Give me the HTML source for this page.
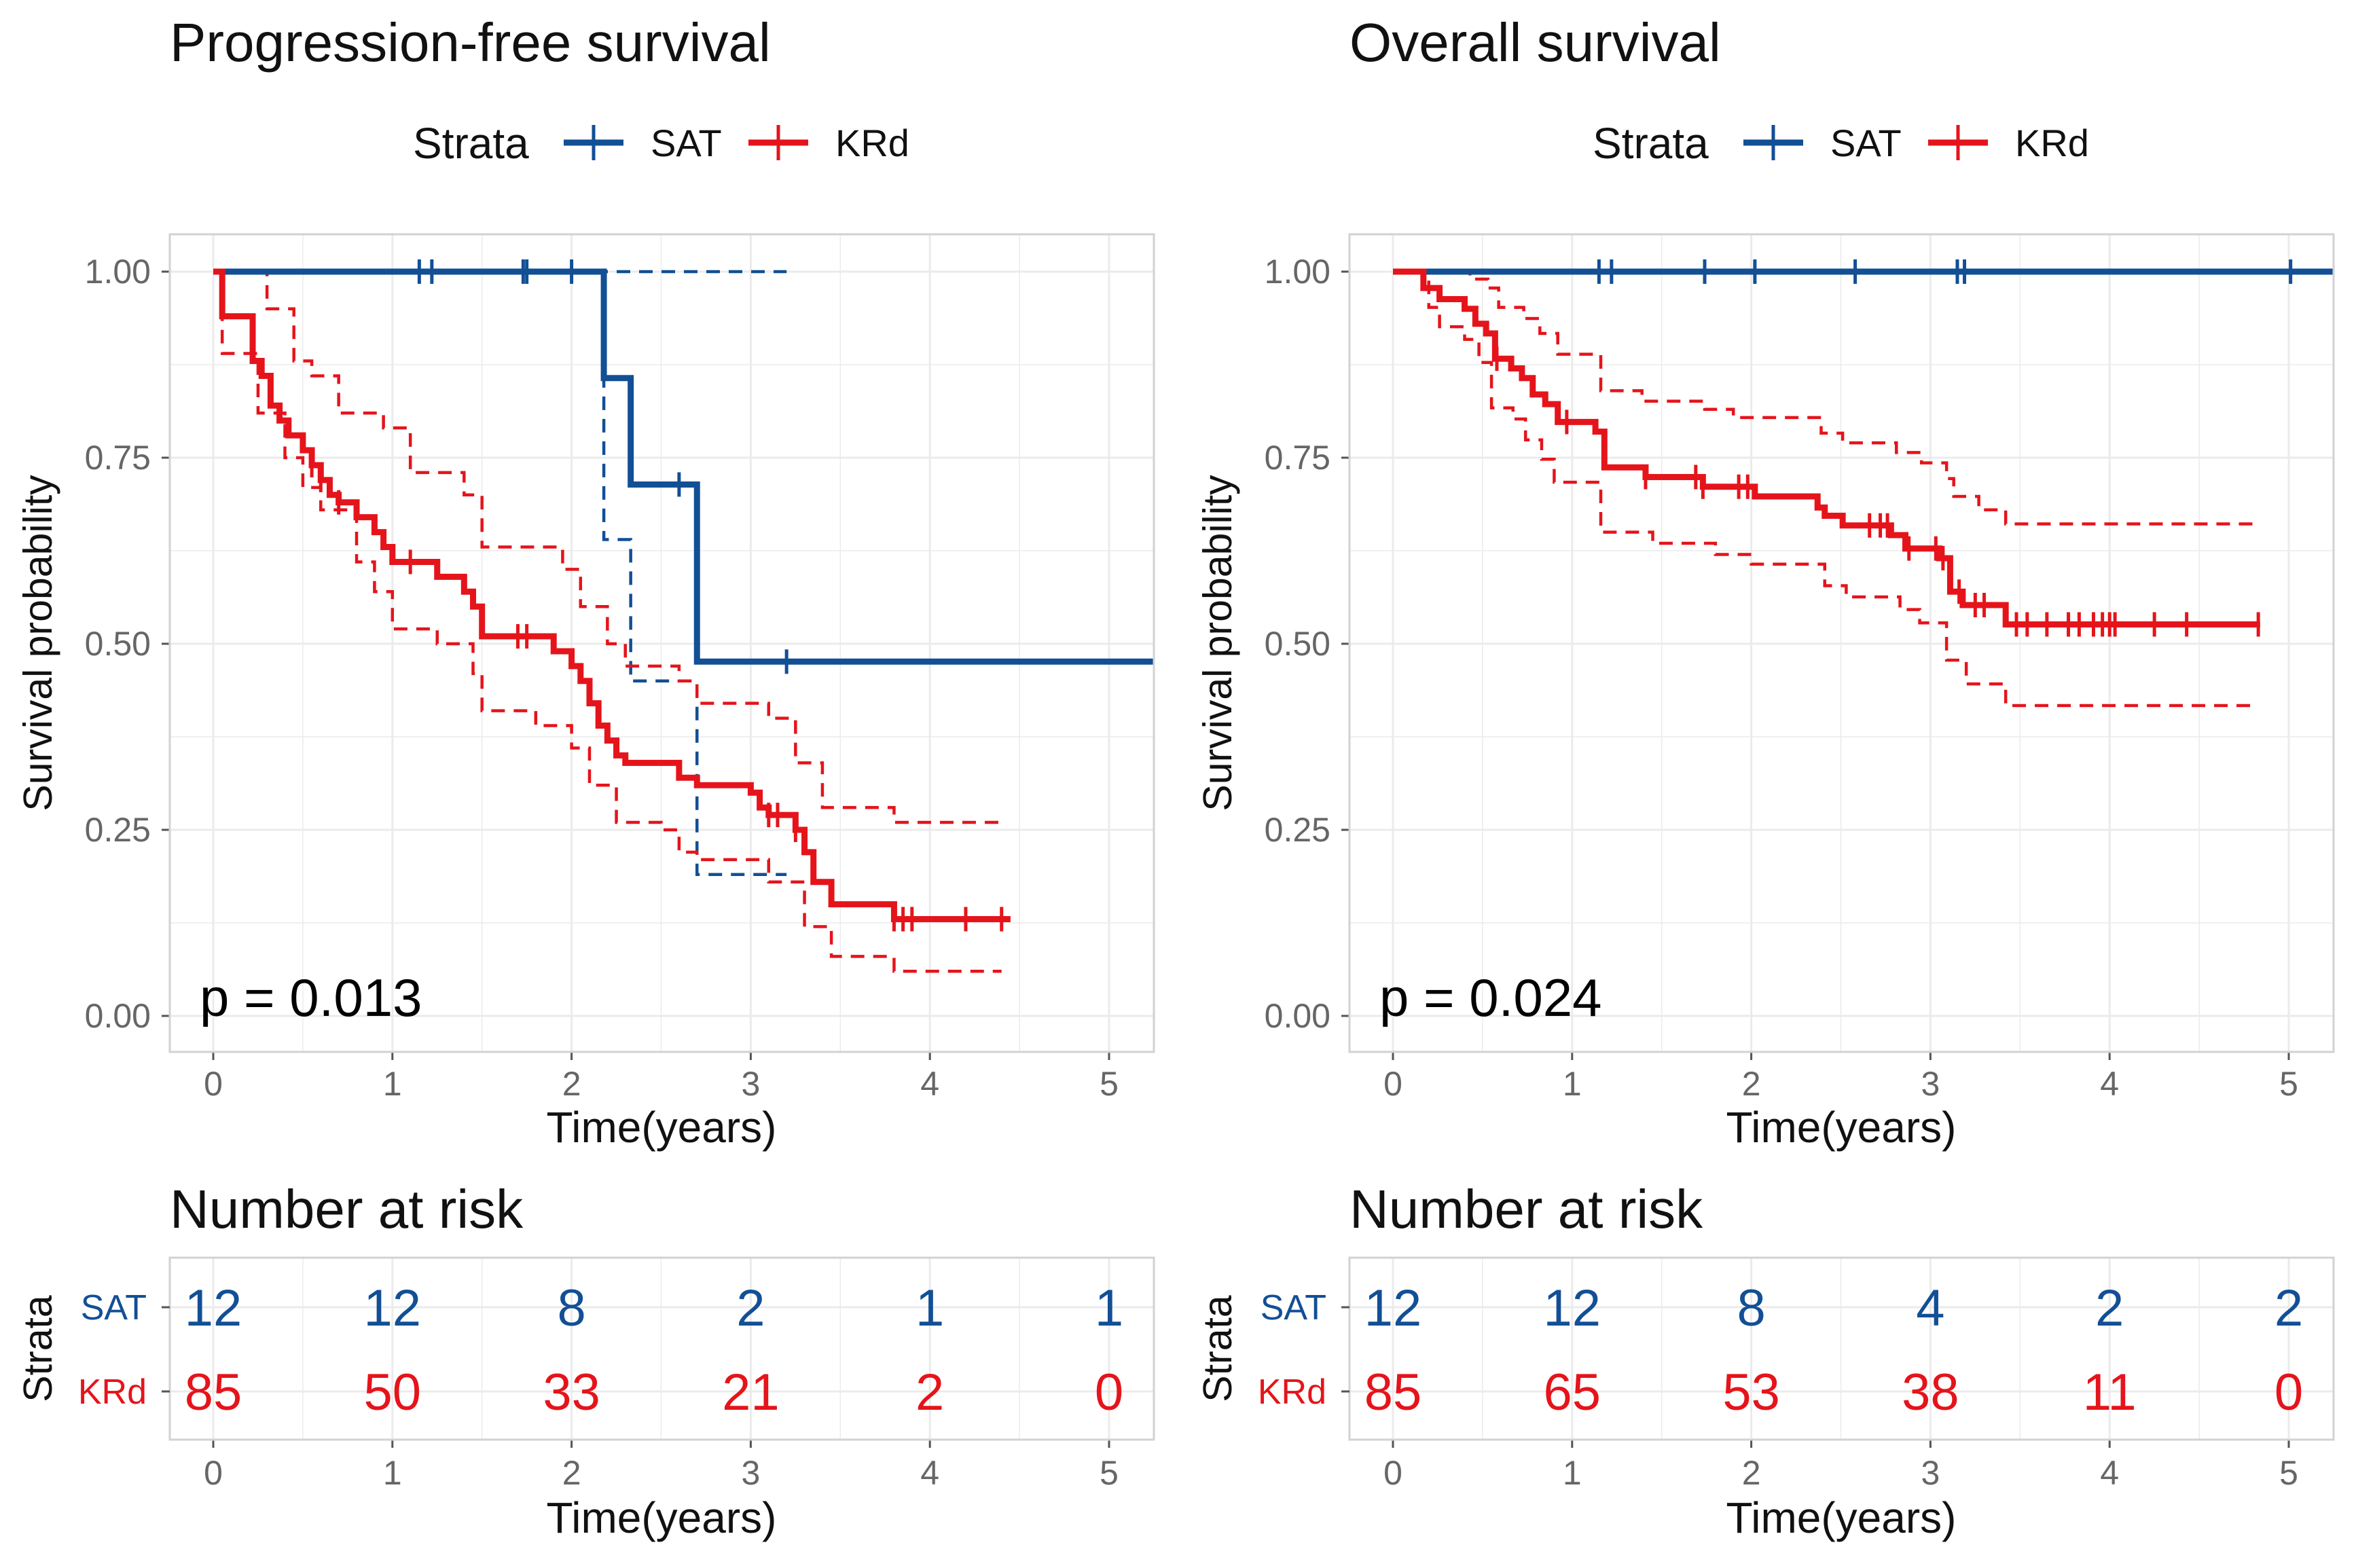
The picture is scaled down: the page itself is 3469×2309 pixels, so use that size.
<!DOCTYPE html>
<html><head><meta charset="utf-8"><style>
html,body{margin:0;padding:0;background:#fff;}
svg{display:block;font-family:"Liberation Sans",Arial,sans-serif;}
</style></head><body>
<svg id="fig" width="3469" height="2309" viewBox="0 0 3469 2309" xmlns="http://www.w3.org/2000/svg"></svg>
<script>
// ---------- data ----------
const xTicks = [0,1,2,3,4,5];
const yTicks = [0,0.25,0.5,0.75,1];
const yTickLabels = ["0.00","0.25","0.50","0.75","1.00"];
const strata = ["SAT","KRd"];

// PFS
const pfsSatT = [0,2.18,2.33,2.7];
const pfsSatS = [1,0.857,0.714,0.476];
const pfsSatEnd = 5.25;
const pfsSatUpT = [0];
const pfsSatUpS = [1];
const pfsSatLoT = [0,2.18,2.33,2.7];
const pfsSatLoS = [1,0.64,0.45,0.19];
const pfsSatCiEnd = 3.2;
const pfsSatCens = [1.15,1.22,1.73,1.75,2.0,2.6,3.2];

const pfsKrdT = [0,0.05,0.22,0.27,0.32,0.37,0.42,0.5,0.55,0.6,0.65,0.7,0.8,0.9,0.95,1.0,1.25,1.4,1.45,1.5,1.9,2.0,2.05,2.1,2.15,2.2,2.25,2.3,2.6,2.7,3.0,3.05,3.1,3.25,3.3,3.35,3.45,3.8];
const pfsKrdS = [1,.94,.88,.86,.82,.80,.78,.76,.74,.72,.70,.69,.67,.65,.63,.61,.59,.57,.55,.51,.49,.47,.45,.42,.39,.37,.35,.34,.32,.31,.30,.28,.27,.25,.22,.18,.15,.13];
const pfsKrdEnd = 4.45;
const pfsKrdUpT = [0,0.3,0.45,0.55,0.7,0.95,1.1,1.4,1.5,1.95,2.05,2.2,2.3,2.6,2.7,3.1,3.25,3.4,3.8];
const pfsKrdUpS = [1,.95,.88,.86,.81,.79,.73,.70,.63,.60,.55,.50,.47,.45,.42,.40,.34,.28,.26];
const pfsKrdLoT = [0,0.05,0.25,0.4,0.5,0.6,0.8,0.9,1.0,1.25,1.45,1.5,1.8,2.0,2.1,2.25,2.5,2.6,2.7,3.1,3.3,3.45,3.8];
const pfsKrdLoS = [1,.89,.81,.75,.71,.68,.61,.57,.52,.50,.46,.41,.39,.36,.31,.26,.25,.22,.21,.18,.12,.08,.06];
const pfsKrdCiEnd = 4.4;
const pfsKrdCens = [0.55,0.6,0.7,1.1,1.7,1.75,3.1,3.15,3.25,3.8,3.85,3.9,4.2,4.4];

// OS
const osSatT = [0];
const osSatS = [1];
const osSatEnd = 5.25;
const osSatCens = [1.15,1.22,1.74,2.02,2.58,3.15,3.19,5.01];

const osKrdT = [0,0.17,0.26,0.4,0.46,0.52,0.57,0.66,0.72,0.78,0.85,0.92,1.13,1.18,1.41,1.73,2.02,2.37,2.41,2.51,2.78,2.86,3.05,3.11,3.18,3.42];
const osKrdS = [1,.978,.963,.95,.93,.917,.883,.87,.857,.835,.822,.798,.785,.737,.724,.711,.698,.683,.672,.659,.646,.628,.615,.57,.552,.526];
const osKrdEnd = 4.84;
const osKrdUpT = [0,0.43,0.53,0.59,0.73,0.82,0.92,1.16,1.39,1.74,1.9,2.39,2.51,2.81,2.95,3.09,3.13,3.27,3.42];
const osKrdUpS = [1,.99,.978,.952,.937,.917,.889,.84,.826,.815,.804,.783,.77,.757,.743,.722,.698,.68,.661];
const osKrdLoT = [0,0.2,0.26,0.4,0.48,0.55,0.67,0.74,0.83,0.9,1.16,1.45,1.8,2.0,2.41,2.53,2.83,2.94,3.09,3.2,3.42];
const osKrdLoS = [1,.952,.926,.909,.878,.817,.802,.774,.748,.717,.65,.635,.62,.607,.578,.563,.546,.528,.478,.446,.417];
const osKrdCiEnd = 4.82;
const osKrdCens = [0.58,0.97,1.41,1.69,1.73,1.93,1.98,2.66,2.72,2.76,2.88,3.03,3.07,3.16,3.25,3.3,3.48,3.54,3.65,3.77,3.83,3.91,3.96,4.0,4.03,4.25,4.43,4.83];

const pfsRiskSat = [12,12,8,2,1,1];
const pfsRiskKrd = [85,50,33,21,2,0];
const osRiskSat = [12,12,8,4,2,2];
const osRiskKrd = [85,65,53,38,11,0];

// ---------- drawing ----------
const NS = "http://www.w3.org/2000/svg";
const svg = document.getElementById("fig");
const BLUE = "#124f95", RED = "#e5141b", GRID = "#ebebeb", BORDER = "#d2d2d2", TICK = "#555";
function mk(tag, attrs, parent) {
  const e = document.createElementNS(NS, tag);
  for (const k in attrs) e.setAttribute(k, attrs[k]);
  (parent || svg).appendChild(e);
  return e;
}
function txt(s, attrs, parent) { const e = mk("text", attrs, parent); e.textContent = s; return e; }

const PX0 = 250, PX1 = 1699, PY0 = 345, PY1 = 1549;
const X0 = 314, XPER = 263.8, Y1 = 400, Y0 = 1496;
const RY0 = 1852, RY1 = 2120, ROWSAT = 1925, ROWKRD = 2049;

function stepPath(T, S, end, xf, yf) {
  let d = "M" + xf(T[0]) + "," + yf(S[0]);
  for (let i = 1; i < T.length; i++) d += " H" + xf(T[i]) + " V" + yf(S[i]);
  d += " H" + xf(end);
  return d;
}
function stepVal(T, S, t) { let v = S[0]; for (let i = 0; i < T.length; i++) if (T[i] <= t) v = S[i]; return v; }

function panel(dx, title, pval, curves, riskSat, riskKrd, key) {
  const xf = t => dx + X0 + t * XPER;
  const yf = s => Y0 - (Y0 - Y1) * s;
  const g = mk("g", {});
  
  

  let e = txt(title, {x: dx + 250, y: 90, "font-size": 80, fill: "#111"}, g);
   

  // legend
  const lg = mk("g", {}, g);
   
  txt("Strata", {x: dx + 608, y: 233, "font-size": 64, fill: "#111"}, lg);
  [[BLUE, 830, "SAT", 958], [RED, 1102, "KRd", 1230]].forEach(([c, lx, lab, tx]) => {
    const it = mk("g", {}, lg);
    
    
    mk("line", {x1: dx + lx, x2: dx + lx + 88, y1: 210, y2: 210, stroke: c, "stroke-width": 9}, it);
    mk("line", {x1: dx + lx + 44, x2: dx + lx + 44, y1: 184, y2: 236, stroke: c, "stroke-width": 5}, it);
    txt(lab, {x: dx + tx, y: 230, "font-size": 56, fill: "#111"}, it);
  });

  // plot area grid
  const pg = mk("g", {}, g);
   
  for (let t = 0; t <= 5.5; t += 0.5) {
    const x = xf(t); if (x > dx + PX1) break;
    mk("line", {x1: x, x2: x, y1: PY0, y2: PY1, stroke: GRID, "stroke-width": (t % 1 === 0) ? 3 : 1.5}, pg);
    mk("line", {x1: x, x2: x, y1: RY0, y2: RY1, stroke: GRID, "stroke-width": (t % 1 === 0) ? 3 : 1.5}, pg);
  }
  for (let s = 0; s <= 1.0001; s += 0.125) {
    mk("line", {x1: dx + PX0, x2: dx + PX1, y1: yf(s), y2: yf(s), stroke: GRID, "stroke-width": (Math.round(s * 1000) % 250 === 0) ? 3 : 1.5}, pg);
  }
  mk("line", {x1: dx + PX0, x2: dx + PX1, y1: ROWSAT, y2: ROWSAT, stroke: GRID, "stroke-width": 3}, pg);
  mk("line", {x1: dx + PX0, x2: dx + PX1, y1: ROWKRD, y2: ROWKRD, stroke: GRID, "stroke-width": 3}, pg);

  // axes ticks & labels
  xTicks.forEach(t => {
    const x = xf(t);
    mk("line", {x1: x, x2: x, y1: PY1, y2: PY1 + 12, stroke: TICK, "stroke-width": 3}, g);
    let l = txt(String(t), {x: x, y: 1613, "font-size": 50, fill: "#666", "text-anchor": "middle"}, g);
     
    mk("line", {x1: x, x2: x, y1: RY1, y2: RY1 + 12, stroke: TICK, "stroke-width": 3}, g);
    l = txt(String(t), {x: x, y: 2186, "font-size": 50, fill: "#666", "text-anchor": "middle"}, g);
     
  });
  yTicks.forEach((s, i) => {
    const y = yf(s);
    mk("line", {x1: dx + PX0 - 12, x2: dx + PX0, y1: y, y2: y, stroke: TICK, "stroke-width": 3}, g);
    const l = txt(yTickLabels[i], {x: dx + 222, y: y + 17, "font-size": 50, fill: "#666", "text-anchor": "end"}, g);
     
  });
  e = txt("Time(years)", {x: dx + 974, y: 1682, "font-size": 64, fill: "#111", "text-anchor": "middle"}, g);
   
  e = txt("Survival probability", {x: 0, y: 0, "font-size": 59, fill: "#111", "text-anchor": "middle", transform: `translate(${dx + 76},947) rotate(-90)`}, g);
   

  // curves
  const clip = mk("clipPath", {id: "clip-" + key}, g);
  mk("rect", {x: dx + PX0, y: PY0, width: PX1 - PX0, height: PY1 - PY0}, clip);
  const cg = mk("g", {"clip-path": `url(#clip-${key})`}, g);
  curves.forEach(c => {
    (c.ci || []).forEach((ci, k) => {
      const p = mk("path", {d: stepPath(ci[0], ci[1], c.ciEnd, xf, yf), fill: "none", stroke: c.color, "stroke-width": 4.5, "stroke-dasharray": "20 13"}, cg);
      
      
    });
  });
  curves.forEach(c => {
    const p = mk("path", {d: stepPath(c.T, c.S, c.end, xf, yf), fill: "none", stroke: c.color, "stroke-width": 9}, cg);
    
    
    c.cens.forEach(t => {
      const y = yf(stepVal(c.T, c.S, t));
      const m = mk("line", {x1: xf(t), x2: xf(t), y1: y - 18, y2: y + 18, stroke: c.color, "stroke-width": 5}, cg);
      
      
    });
  });
  e = txt(pval, {x: dx + 294, y: 1496, "font-size": 78, fill: "#000"}, g);
   
  e = mk("rect", {x: dx + PX0, y: PY0, width: PX1 - PX0, height: PY1 - PY0, fill: "none", stroke: BORDER, "stroke-width": 3}, g);
   

  // risk table
  e = txt("Number at risk", {x: dx + 250, y: 1808, "font-size": 80, fill: "#111"}, g);
   
  e = mk("rect", {x: dx + PX0, y: RY0, width: PX1 - PX0, height: RY1 - RY0, fill: "none", stroke: BORDER, "stroke-width": 3}, g);
   
  [[ROWSAT, BLUE, "SAT", riskSat], [ROWKRD, RED, "KRd", riskKrd]].forEach(([y, c, lab, vals]) => {
    mk("line", {x1: dx + PX0 - 12, x2: dx + PX0, y1: y, y2: y, stroke: TICK, "stroke-width": 3}, g);
    let l = txt(lab, {x: dx + 216, y: y + 18, "font-size": 52, fill: c, "text-anchor": "end"}, g);
     
    vals.forEach((v, i) => {
      const n = txt(String(v), {x: xf(xTicks[i]), y: y + 27, "font-size": 76, fill: c, "text-anchor": "middle"}, g);
      
      
    });
  });
  e = txt("Strata", {x: 0, y: 0, "font-size": 59, fill: "#111", "text-anchor": "middle", transform: `translate(${dx + 76},1986) rotate(-90)`}, g);
   
  e = txt("Time(years)", {x: dx + 974, y: 2257, "font-size": 64, fill: "#111", "text-anchor": "middle"}, g);
   
}

panel(0, "Progression-free survival", "p = 0.013", [
  {name: "sat", color: BLUE, T: pfsSatT, S: pfsSatS, end: pfsSatEnd, ci: [[pfsSatUpT, pfsSatUpS], [pfsSatLoT, pfsSatLoS]], ciEnd: pfsSatCiEnd, cens: pfsSatCens},
  {name: "krd", color: RED, T: pfsKrdT, S: pfsKrdS, end: pfsKrdEnd, ci: [[pfsKrdUpT, pfsKrdUpS], [pfsKrdLoT, pfsKrdLoS]], ciEnd: pfsKrdCiEnd, cens: pfsKrdCens}
], pfsRiskSat, pfsRiskKrd, "pfs");

panel(1737, "Overall survival", "p = 0.024", [
  {name: "sat", color: BLUE, T: osSatT, S: osSatS, end: osSatEnd, ci: [], ciEnd: osSatEnd, cens: osSatCens},
  {name: "krd", color: RED, T: osKrdT, S: osKrdS, end: osKrdEnd, ci: [[osKrdUpT, osKrdUpS], [osKrdLoT, osKrdLoS]], ciEnd: osKrdCiEnd, cens: osKrdCens}
], osRiskSat, osRiskKrd, "os");
</script>
</body></html>
